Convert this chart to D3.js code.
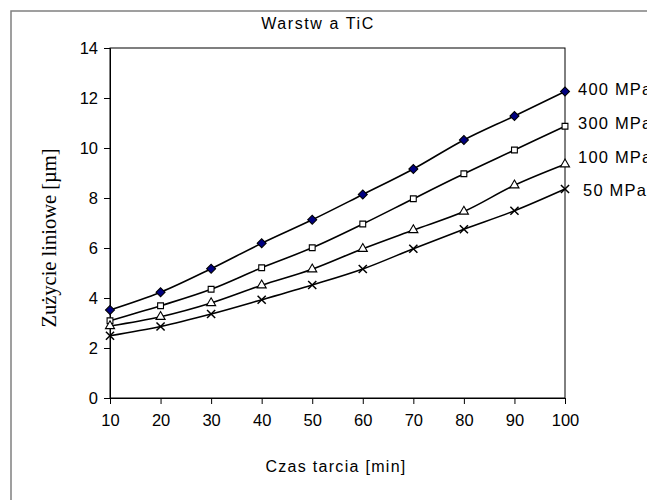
<!DOCTYPE html>
<html>
<head>
<meta charset="utf-8">
<script src="https://cdn.jsdelivr.net/npm/d3@7"></script>
<style>
    body { margin: 0; background: #fff; }
    svg { display: block; }
    .tick text { font-family: Arial, "Liberation Sans", sans-serif; font-size: 16.5px; fill: #000; }
</style>
</head>
<body>
<div id="chart"></div>
<script>
// czas tarcia [min]
let times = [10, 20, 30, 40, 50, 60, 70, 80, 90, 100];

// zuzycie liniowe [um] per load
let wear400 = [3.52, 4.23, 5.17, 6.19, 7.13, 8.14, 9.16, 10.32, 11.28, 12.26];
let wear300 = [3.09, 3.69, 4.35, 5.21, 6.01, 6.96, 7.97, 8.97, 9.92, 10.87];
let wear100 = [2.88, 3.25, 3.8, 4.51, 5.15, 5.97, 6.72, 7.46, 8.51, 9.35];
let wear50 = [2.49, 2.86, 3.36, 3.93, 4.52, 5.16, 5.97, 6.75, 7.49, 8.36];

let seriesNames = ['400 MPa', '300 MPa', '100 MPa', '50 MPa'];
let yTicks = [0, 2, 4, 6, 8, 10, 12, 14];

let width = 647,
    height = 500,
    margin = {
        top: 48,
        right: 82,
        bottom: 102,
        left: 110
    };

let svg = d3.select('#chart').append('svg')
    .attr('width', width)
    .attr('height', height);

// outer chart frame (runs off the right and bottom edges)
svg.append('rect')
    .attr('x', 11)
    .attr('y', 11)
    .attr('width', 700)
    .attr('height', 600)
    .attr('fill', 'none')
    .attr('stroke', '#808080')
    .attr('stroke-width', 1.5);

let x = d3.scaleLinear()
    .domain([10, 100])
    .range([margin.left, width - margin.right]);

let y = d3.scaleLinear()
    .domain([0, 14])
    .range([height - margin.bottom, margin.top]);

// plot box
svg.append('rect')
    .attr('x', x(10))
    .attr('y', y(14))
    .attr('width', x(100) - x(10))
    .attr('height', y(0) - y(14))
    .attr('fill', 'none')
    .attr('stroke', '#000')
    .attr('stroke-width', 1);

let yAxis = svg.append('g')
    .attr('transform', 'translate(' + x(10) + ',0)')
    .call(d3.axisLeft(y).tickValues(yTicks).tickSize(6).tickPadding(6));

let xAxis = svg.append('g')
    .attr('transform', 'translate(0,' + y(0) + ')')
    .call(d3.axisBottom(x).tickValues(times).tickSize(6).tickPadding(9));

[yAxis, xAxis].forEach(function(a) {
    a.select('.domain').attr('stroke', '#000');
    a.selectAll('.tick line').attr('stroke', '#000');
});
xAxis.selectAll('.tick text').attr('dy', '0.8em');

let sans = 'Arial, "Liberation Sans", sans-serif';

// titles
svg.append('text')
    .attr('x', 318)
    .attr('y', 29)
    .attr('text-anchor', 'middle')
    .style('font-family', sans)
    .style('font-size', '16px')
    .style('letter-spacing', '1.6px')
    .text('Warstw a TiC');

svg.append('text')
    .attr('x', 336)
    .attr('y', 472)
    .attr('text-anchor', 'middle')
    .style('font-family', sans)
    .style('font-size', '16px')
    .style('letter-spacing', '1.3px')
    .text('Czas tarcia [min]');

svg.append('text')
    .attr('transform', 'translate(56,' + 238 + ') rotate(-90)')
    .attr('text-anchor', 'middle')
    .style('font-family', '"Times New Roman", "Liberation Serif", serif')
    .style('font-size', '20.5px')
    .text('Zużycie liniowe [µm]');

let data = [wear400, wear300, wear100, wear50];

let line = d3.line()
    .x(function(d, i) { return x(times[i]); })
    .y(function(d) { return y(d); })
    .curve(d3.curveCatmullRom.alpha(0.5));

svg.selectAll('.series')
    .data(data)
    .enter().append('path')
    .attr('class', 'series')
    .attr('d', line)
    .attr('fill', 'none')
    .attr('stroke', '#000')
    .attr('stroke-width', 1.6);

// markers
let markerSymbols = [d3.symbolSquare, d3.symbolSquare, d3.symbolTriangle, d3.symbolTimes];
let markerSizes = [40, 34, 36, 45];
let markerRotate = [45, 0, 0, 0];

data.forEach(function(values, s) {
    let g = svg.append('g');
    g.selectAll('path')
        .data(values)
        .enter().append('path')
        .attr('transform', function(d, i) {
            return 'translate(' + x(times[i]) + ',' + y(d) + ') rotate(' + markerRotate[s] + ')';
        })
        .attr('d', d3.symbol().type(markerSymbols[s]).size(markerSizes[s]))
        .attr('fill', s === 0 ? '#000080' : (s === 3 ? 'none' : '#fff'))
        .attr('stroke', '#000')
        .attr('stroke-width', s === 3 ? 1.5 : 1.1);
});

// series labels at the right end
let labelX = [578, 578, 578, 583];
let labelY = [89, 123, 157, 190];
svg.selectAll('.lbl')
    .data(seriesNames)
    .enter().append('text')
    .attr('class', 'lbl')
    .attr('x', function(d, i) { return labelX[i]; })
    .attr('y', function(d, i) { return labelY[i]; })
    .attr('dy', '0.35em')
    .style('font-family', sans)
    .style('font-size', '16.5px')
    .style('letter-spacing', '1.2px')
    .text(function(d) { return d; });
</script>
</body>
</html>
